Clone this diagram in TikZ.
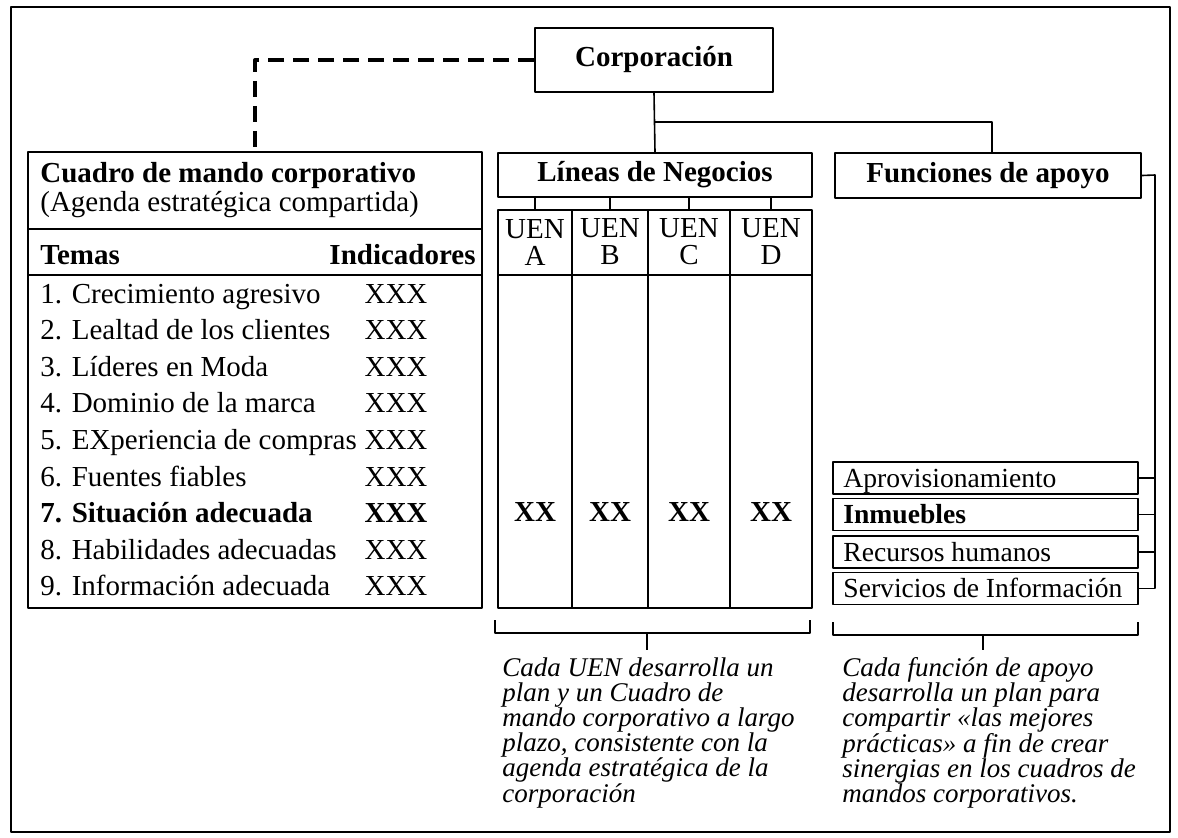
\documentclass[tikz,border=0pt]{standalone}
\usepackage{fontspec}
\setmainfont{Liberation Serif}
\usetikzlibrary{positioning}
\newcommand{\cmsize}{\fontsize{14.5}{17}\selectfont}
\tikzset{box/.style={draw,line width=0.9pt,inner sep=0pt},
  capt/.style={anchor=north west,inner sep=0pt,align=left,font=\itshape\fontsize{13.5}{12.6}\selectfont}}

\begin{document}
\begin{tikzpicture}[x=0.5pt,y=-0.5pt,line join=round,font=\cmsize,
  item/.style={inner sep=0pt},link/.style={line width=0.8pt}]
\useasboundingbox (0,0) rectangle (1178,837);
\draw[line width=0.8pt] (11,7) rectangle (1170,832);
% --- corporacion y sus ramas
\node[box,font=\cmsize\bfseries,minimum width=119pt,minimum height=32pt] (corp) at (654,60) {Corporación};
\node[box,font=\cmsize\bfseries,minimum width=157pt,minimum height=22pt] (lineas) at (655,175) {Líneas de Negocios};
\node[box,font=\cmsize\bfseries,minimum width=153pt,minimum height=22.5pt] (func) at (988,175.5) {Funciones de apoyo};
\coordinate (rama) at (992,122);
\draw[link] (corp.south) -- (lineas.north);
\draw[link] (corp.south |- rama) -- (rama) -- (rama |- func.north);
% --- cuadro de mando corporativo
\node[box,minimum width=227pt,minimum height=228pt] (cmi) at (255,380) {};
\draw[line width=2pt,dash pattern=on 8pt off 4.5pt] (corp.west) -| (cmi.north);
\draw[line width=0.9pt] (28,229) -- (482,229) (28,275) -- (482,275);
\node[item,anchor=base west,font=\cmsize\bfseries] (titulo) at (40,182) {Cuadro de mando corporativo};
\node[item,anchor=base west] (agenda) at (40,211) {(Agenda estratégica compartida)};
\node[item,anchor=base west,font=\cmsize\bfseries] (temas) at (40,264) {Temas};
\node[item,anchor=base east,font=\cmsize\bfseries] (indic) at (476,264) {Indicadores};
\foreach \t [count=\i] in {1. Crecimiento agresivo,2. Lealtad de los clientes,3. Líderes en Moda,
  4. Dominio de la marca,5. EXperiencia de compras,6. Fuentes fiables,7. Situación adecuada,
  8. Habilidades adecuadas,9. Información adecuada}
{
  \node[item,anchor=base west] (tema\i) at (40,{303+(\i-1)*36.6}) {\ifnum\i=7\bfseries\fi\t};
  \node[item,anchor=base] (ind\i) at (396,{303+(\i-1)*36.6}) {\ifnum\i=7\bfseries\fi XXX};
}
% --- unidades estrategicas de negocio
\node[box,minimum width=157pt,minimum height=199pt] (uen) at (655,409) {};
\draw[line width=0.9pt] (498,275) -- (812,275);
\foreach \x in {572,648,730} \draw[line width=0.9pt] (\x,210) -- (\x,608);
\foreach \l/\x in {A/535,B/610,C/689,D/771}
{
  \node[item,align=center,font=\fontsize{14.5}{13.5}\selectfont] (uen\l) at (\x,242) {UEN\\\l};
  \draw[link] (lineas.south -| uen\l) -- (uen.north -| uen\l);
  \node[item,font=\cmsize\bfseries] (xx\l) at (\x,512) {XX};
}
% --- funciones de apoyo
\coordinate (bus) at (1155,175);
\foreach \t/\y [count=\i] in {Aprovisionamiento/478,Inmuebles/514.5,Recursos humanos/552,Servicios de Información/588.5}
{
  \node[box,minimum width=152.5pt,minimum height=16pt,text height=10pt,text depth=3pt,
    font=\fontsize{13.8}{16}\selectfont] (apoyo\i) at (985.5,\y) {};
  \node[item,anchor=base west,font=\fontsize{13.8}{16}\selectfont] (apoyotxt\i) at (843,\y+9) {\ifnum\i=2\bfseries\fi\t};
  \draw[link] (apoyo\i.east) -- (bus |- apoyo\i.east);
}
\draw[link] (func.east) -- (bus) -- (bus |- apoyo4.east);
% --- llaves y notas
\draw[link] (495,620) -- (495,633) -- (810,633) -- (810,620);
\draw[link] (833,622) -- (833,635) -- (1138,635) -- (1138,622);
\node[capt] (notauen) at (502,657) {Cada UEN desarrolla un\\plan y un Cuadro de\\mando corporativo a largo\\plazo, consistente con la\\agenda estratégica de la\\corporación};
\node[capt] (notaapoyo) at (842,657) {Cada función de apoyo\\desarrolla un plan para\\compartir «las mejores\\prácticas» a fin de crear\\sinergias en los cuadros de\\mandos corporativos.};
\draw[link] (647,633) -- (647,650);
\draw[link] (983,635) -- (983,650);
\end{tikzpicture}
\end{document}
